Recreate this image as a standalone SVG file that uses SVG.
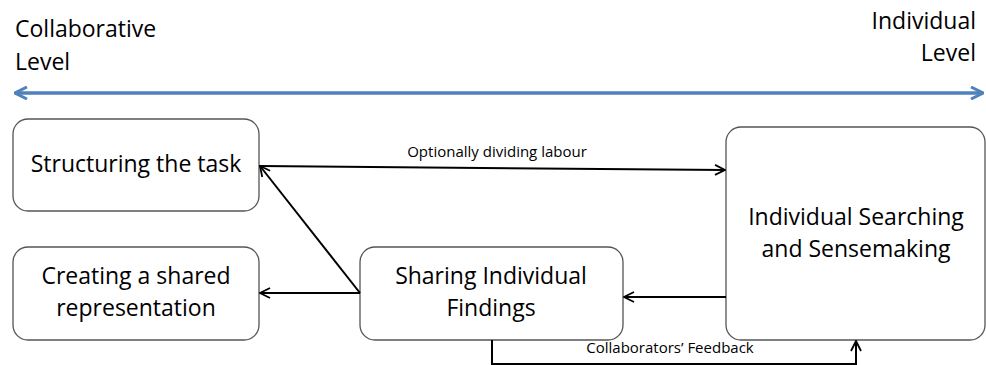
<svg xmlns="http://www.w3.org/2000/svg" width="986" height="365" viewBox="0 0 986 365">
<style>
.node rect{fill:#fff;stroke:#555;stroke-width:1.3}
.t{font-family:"Open Sans","Liberation Sans",sans-serif;font-size:23px;fill:#000}
.lbl{font-family:"Open Sans","Liberation Sans",sans-serif;font-size:15px;fill:#000}
.c{text-anchor:middle}
.conn{stroke:#000;stroke-width:2;fill:none}
</style>
<defs>
<marker id="ah" viewBox="0 0 12 12" refX="11" refY="6" markerWidth="12" markerHeight="12" markerUnits="userSpaceOnUse" orient="auto-start-reverse">
<path d="M1,1 L11,6 L1,11" fill="none" stroke="#000" stroke-width="1.8"/>
</marker>
<marker id="bh" viewBox="0 0 14 14" refX="13" refY="7" markerWidth="14" markerHeight="14" markerUnits="userSpaceOnUse" orient="auto-start-reverse">
<path d="M1,1 L13,7 L1,13" fill="none" stroke="#4F81BD" stroke-width="3"/>
</marker>
</defs>
<text class="t" x="15" y="37">Collaborative</text>
<text class="t" x="15" y="70">Level</text>
<text class="t" x="976" y="29" text-anchor="end">Individual</text>
<text class="t" x="976" y="61" text-anchor="end">Level</text>
<line x1="15" y1="93" x2="983" y2="93" stroke="#4F81BD" stroke-width="3.5" marker-start="url(#bh)" marker-end="url(#bh)"/>
<g id="structuring" class="node">
<rect x="13" y="119" width="246" height="92" rx="15"/>
<text class="t c" x="136" y="172">Structuring the task</text>
</g>
<g id="creating" class="node">
<rect x="13" y="247" width="246" height="93" rx="15"/>
<text class="t c" x="136" y="284">Creating a shared</text>
<text class="t c" x="136" y="316">representation</text>
</g>
<g id="sharing" class="node">
<rect x="360" y="247" width="263" height="93" rx="15"/>
<text class="t c" x="491" y="284">Sharing Individual</text>
<text class="t c" x="491" y="316">Findings</text>
</g>
<g id="individual" class="node">
<rect x="726" y="127" width="259" height="213" rx="15"/>
<text class="t c" x="856" y="225">Individual Searching</text>
<text class="t c" x="856" y="257">and Sensemaking</text>
</g>
<g id="connectors">
<line class="conn" x1="260" y1="166" x2="725" y2="170" marker-end="url(#ah)"/>
<text class="lbl c" x="497" y="157">Optionally dividing labour</text>
<line class="conn" x1="360" y1="293" x2="260" y2="166" marker-end="url(#ah)"/>
<line class="conn" x1="360" y1="293" x2="260" y2="293" marker-end="url(#ah)"/>
<line class="conn" x1="726" y1="297" x2="624" y2="297" marker-end="url(#ah)"/>
<polyline class="conn" points="492,340 492,364 856,364 856,341" marker-end="url(#ah)"/>
<text class="lbl c" x="670" y="353">Collaborators’ Feedback</text>
</g>
</svg>
